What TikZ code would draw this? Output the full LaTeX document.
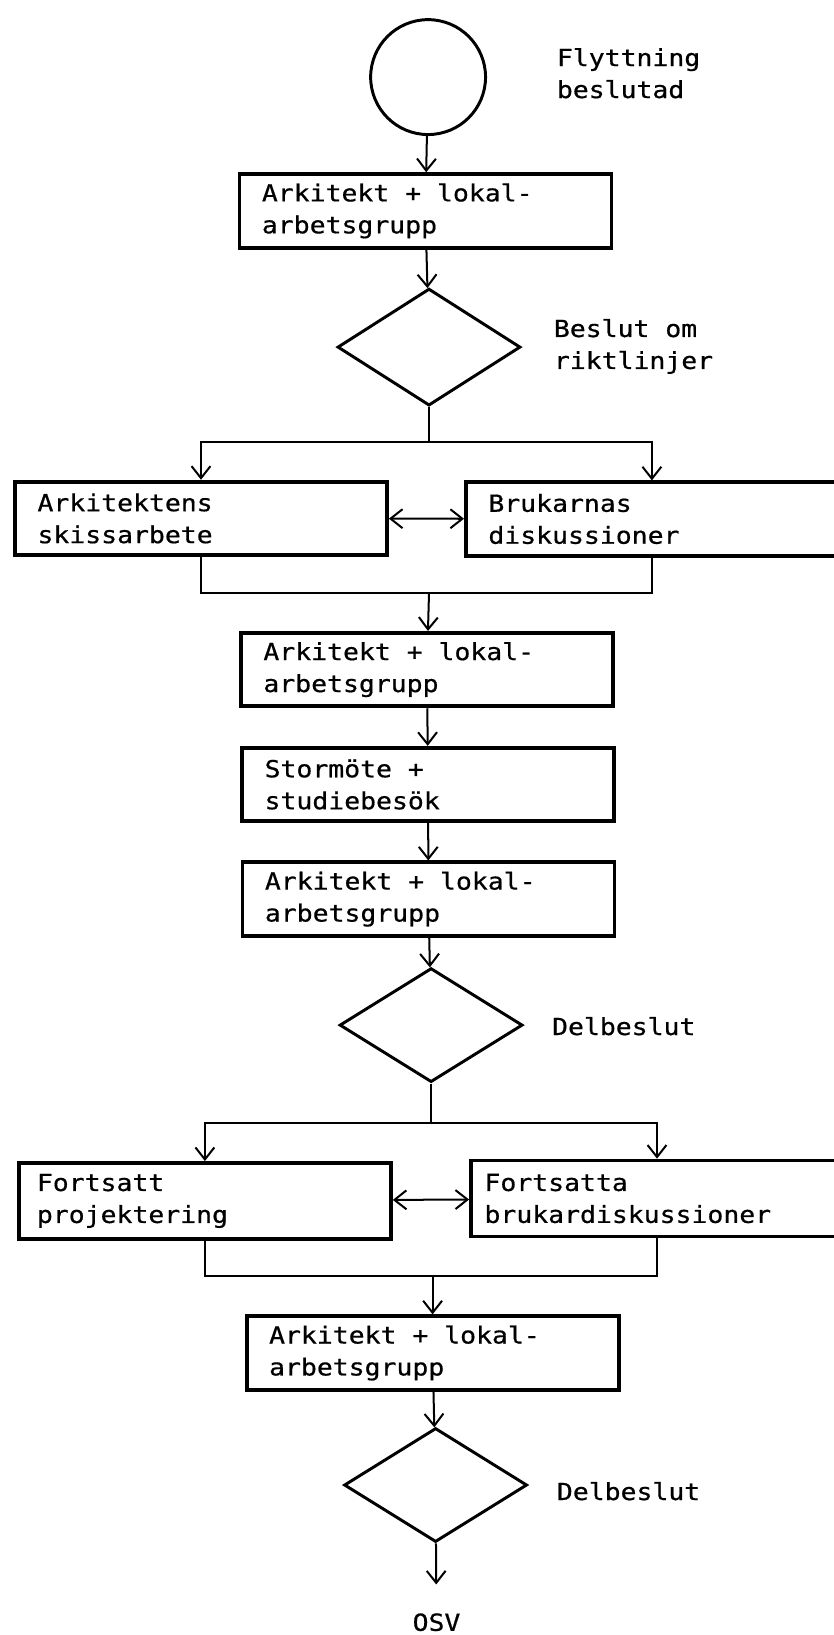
\documentclass[tikz,border=0pt]{standalone}
\usepackage{fontspec}
\newfontfamily\skriv[FakeStretch=1.125,FakeBold=0.6]{DejaVu Sans Mono}
\newcommand\skrivfont{\skriv\fontsize{22.3pt}{30.3pt}\selectfont\spaceskip=15.1pt\relax}
\usetikzlibrary{arrows.meta,shapes.geometric}

\begin{document}
\begin{tikzpicture}[
  >={Straight Barb[length=0.4cm,width=0.63cm]},
  line width=1.9pt,
  every node/.style={font=\skrivfont},
  box/.style={draw,line width=3.6pt,minimum width=12.4cm,minimum height=2.45cm,
    text width=10.9cm,inner xsep=0.75cm,align=flush left},
  ruta/.style={draw,diamond,line width=2.8pt,minimum width=6.1cm,minimum height=3.8cm,inner sep=0pt},
  lbl/.style={inner sep=0pt,align=flush left}]
  \useasboundingbox (0,0) rectangle (27.8,-54.5);
  \node[draw,circle,line width=2.8pt,minimum size=3.83cm,inner sep=0pt] (start) at (14.27,-2.57) {};
  \node[lbl,anchor=north west] (flytt) at (18.53,-1.57) {Flyttning\\beslutad};
  \node[box] (ark1) at (14.18,-7.03) {Arkitekt + lokal-\\arbetsgrupp};
  \node[ruta,minimum height=3.9cm] (rikt) at (14.30,-11.57) {};
  \node[lbl,anchor=north west] (riktl) at (18.43,-10.6) {Beslut om\\riktlinjer};
  \node[box] (skiss) at (6.70,-17.28) {Arkitektens\\skissarbete};
  \node[box] (bruk) at (21.73,-17.30) {Brukarnas\\diskussioner};
  \node[box] (ark2) at (14.23,-22.32) {Arkitekt + lokal-\\arbetsgrupp};
  \node[box] (stor) at (14.27,-26.15) {Stormöte +\\studiebesök};
  \node[box] (ark3) at (14.28,-29.97) {Arkitekt + lokal-\\arbetsgrupp};
  \node[ruta] (del1) at (14.37,-34.17) {};
  \node[lbl,anchor=base west] (delb1) at (18.37,-34.5) {Delbeslut};
  \node[box,minimum height=2.53cm,inner xsep=0.6cm,text width=11.2cm] (fort) at (6.83,-40.03) {Fortsatt\\projektering};
  \node[box,minimum height=2.53cm,inner xsep=0.45cm,text width=11.5cm] (fortb) at (21.9,-39.95) {Fortsatta\\brukardiskussioner};
  \node[box] (ark4) at (14.42,-45.1) {Arkitekt + lokal-\\arbetsgrupp};
  \node[ruta] (del2) at (14.52,-49.5) {};
  \node[lbl,anchor=base west] (delb2) at (18.53,-50.0) {Delbeslut};
  \node[inner sep=0pt,anchor=base] (osv) at (14.55,-54.36) {OSV};
  \coordinate (s1) at (14.30,-14.73);
  \coordinate (m1) at (14.30,-19.77);
  \coordinate (s2) at (14.37,-37.43);
  \coordinate (m2) at (14.42,-42.53);
  \draw[->] (start) edge (ark1);
  \draw[->] (ark1) edge (rikt);
  \draw (rikt) -- (s1);
  \draw[->] (s1) -| (skiss);
  \draw[->] (s1) -| (bruk);
  \draw[<->] (skiss) -- (bruk);
  \draw (skiss) |- (m1);
  \draw (bruk) |- (m1);
  \draw[->] (m1) -- (ark2);
  \draw[->] (ark2) edge (stor);
  \draw[->] (stor) edge (ark3);
  \draw[->] (ark3) edge (del1);
  \draw (del1) -- (s2);
  \draw[->] (s2) -| (fort);
  \draw[->] (s2) -| (fortb);
  \draw[<->] (fort) -- (fortb);
  \draw (fort) |- (m2);
  \draw (fortb) |- (m2);
  \draw[->] (m2) -- (ark4);
  \draw[->] (ark4) edge (del2);
  \draw[->,shorten >=0.93cm] (del2) -- (osv);
\end{tikzpicture}
\end{document}
